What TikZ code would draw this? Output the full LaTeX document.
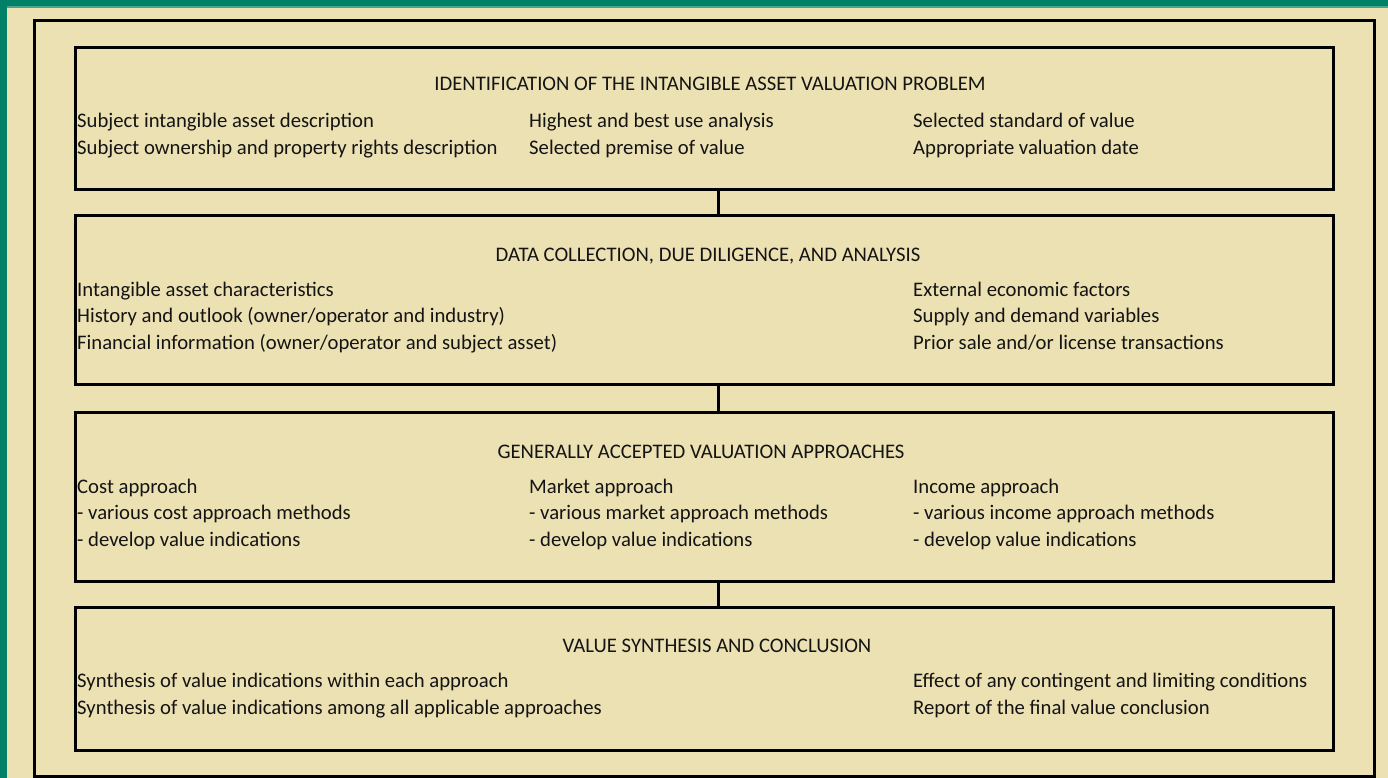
\documentclass[tikz,border=0pt]{standalone}
\usepackage{fontspec}
\setmainfont{Carlito}
\definecolor{paper}{RGB}{236,225,179}
\definecolor{trim}{RGB}{0,128,102}
\definecolor{trimlight}{RGB}{70,165,140}
\definecolor{ink}{RGB}{20,20,20}

\begin{document}
\begin{tikzpicture}[x=1pt,y=-1pt,
  stage/.style={draw=black, line width=2.6pt, inner sep=0pt, anchor=north west,
                minimum width=1258pt},
  outer/.style={draw=black, line width=2.6pt, inner sep=0pt, anchor=north west,
                minimum width=1340pt, minimum height=756pt},
  txt/.style={anchor=base west, inner sep=0pt, text=ink,
              font=\fontsize{20.7}{25}\selectfont},
  head/.style={anchor=base, inner sep=0pt, text=ink,
               font=\fontsize{20.7}{25}\selectfont},
  link/.style={draw=black, line width=2.4pt}]

% page and coloured trim
\fill[paper] (0,0) rectangle (1388,778);
\useasboundingbox (0,0) rectangle (1388,778);
\fill[trim] (0,0) rectangle (1388,6);
\fill[trimlight] (0,6) rectangle (1388,8);
\fill[trim] (0,0) rectangle (7,778);

% surrounding frame
\node[outer] (frame) at (33,19) {};

% the four stages
\node[stage, minimum height=142pt] (s1) at (74,46) {};
\node[stage, minimum height=169pt] (s2) at (74,214) {};
\node[stage, minimum height=169pt] (s3) at (74,411) {};
\node[stage, minimum height=143pt] (s4) at (74,606) {};

% links between stages
\draw[link] ([xshift=14pt]s1.south) -- ([xshift=14pt]s2.north);
\draw[link] ([xshift=14pt]s2.south) -- ([xshift=14pt]s3.north);
\draw[link] ([xshift=14pt]s3.south) -- ([xshift=14pt]s4.north);

% stage 1
\node[head] (h1) at (710,91) {IDENTIFICATION OF THE INTANGIBLE ASSET VALUATION PROBLEM};
\node[txt] (a1) at (77,128) {Subject intangible asset description};
\node[txt] (a2) at (77,155) {Subject ownership and property rights description};
\node[txt] (a3) at (529,128) {Highest and best use analysis};
\node[txt] (a4) at (529,155) {Selected premise of value};
\node[txt] (a5) at (913,128) {Selected standard of value};
\node[txt] (a6) at (913,155) {Appropriate valuation date};

% stage 2
\node[head] (h2) at (708,261) {DATA COLLECTION, DUE DILIGENCE, AND ANALYSIS};
\node[txt] (b1) at (77,296) {Intangible asset characteristics};
\node[txt] (b2) at (77,322) {History and outlook (owner/operator and industry)};
\node[txt] (b3) at (77,349) {Financial information (owner/operator and subject asset)};
\node[txt] (b4) at (913,296) {External economic factors};
\node[txt] (b5) at (913,322) {Supply and demand variables};
\node[txt] (b6) at (913,349) {Prior sale and/or license transactions};

% stage 3
\node[head] (h3) at (701,458) {GENERALLY ACCEPTED VALUATION APPROACHES};
\node[txt] (c1) at (77,493) {Cost approach};
\node[txt] (c2) at (77,519) {- various cost approach methods};
\node[txt] (c3) at (77,546) {- develop value indications};
\node[txt] (c4) at (529,493) {Market approach};
\node[txt] (c5) at (529,519) {- various market approach methods};
\node[txt] (c6) at (529,546) {- develop value indications};
\node[txt] (c7) at (913,493) {Income approach};
\node[txt] (c8) at (913,519) {- various income approach methods};
\node[txt] (c9) at (913,546) {- develop value indications};

% stage 4
\node[head] (h4) at (717,652) {VALUE SYNTHESIS AND CONCLUSION};
\node[txt] (d1) at (77,687) {Synthesis of value indications within each approach};
\node[txt] (d2) at (77,714) {Synthesis of value indications among all applicable approaches};
\node[txt] (d3) at (913,687) {Effect of any contingent and limiting conditions};
\node[txt] (d4) at (913,714) {Report of the final value conclusion};
\end{tikzpicture}
\end{document}
